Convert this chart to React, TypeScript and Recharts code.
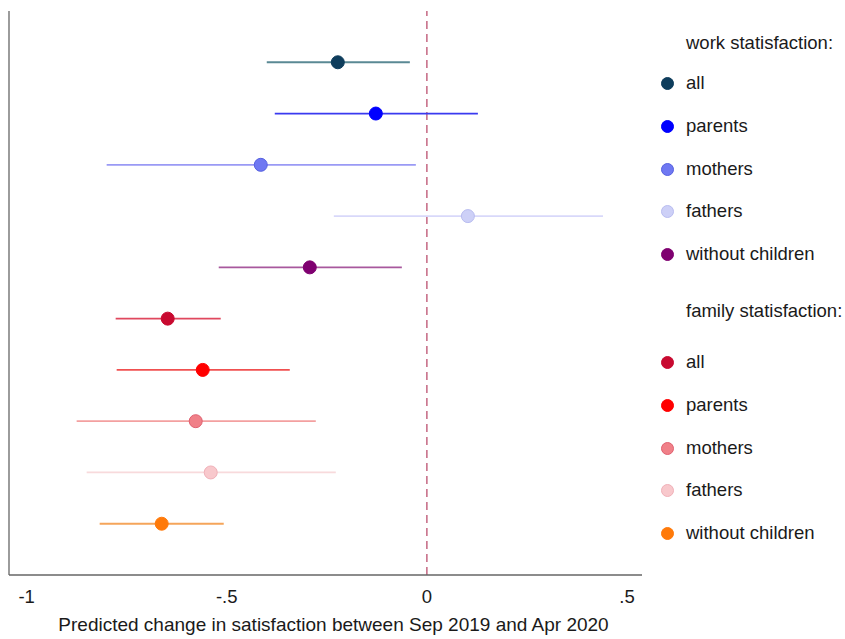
import React from "react";
import {
  ErrorBar,
  ReferenceLine,
  Scatter,
  ScatterChart,
  XAxis,
  YAxis,
  Label,
} from "recharts";

// estimates and 95% CI bounds
const groupTitles = ["work statisfaction:", "family statisfaction:"];
const subgroups = ["all", "parents", "mothers", "fathers", "without children"];

const workEstimate = [-0.2225, -0.1275, -0.415, 0.1025, -0.2925];
const workLower = [-0.4, -0.38, -0.8, -0.2325, -0.52];
const workUpper = [-0.0425, 0.1275, -0.0275, 0.44, -0.0625];

const familyEstimate = [-0.6475, -0.56, -0.5775, -0.54, -0.6625];
const familyLower = [-0.7775, -0.775, -0.875, -0.85, -0.8175];
const familyUpper = [-0.515, -0.3425, -0.2775, -0.2275, -0.5075];

const xTicks = [-1, -0.5, 0, 0.5];
const xTickLabels = ["-1", "-.5", "0", ".5"];

const workColors = [
  { dot: "#0e3d5c", edge: "#0e3d5c", line: "#5a8994" },
  { dot: "#0000ff", edge: "#0000ff", line: "#3a3af0" },
  { dot: "#6f78f2", edge: "#5560e0", line: "#9a9af5" },
  { dot: "#cdd0f7", edge: "#b8bcf0", line: "#d8d8fa" },
  { dot: "#7f0070", edge: "#7f0070", line: "#a8589d" },
];
const familyColors = [
  { dot: "#c80a30", edge: "#c80a30", line: "#e0485e" },
  { dot: "#ff0000", edge: "#ff0000", line: "#f05050" },
  { dot: "#f08088", edge: "#e06070", line: "#f3a0a0" },
  { dot: "#f8c8cc", edge: "#f0b0b8", line: "#f8dadc" },
  { dot: "#ff7a0a", edge: "#ff7a0a", line: "#f5a55a" },
];

const font = '"Liberation Sans", Arial, Helvetica, sans-serif';
const fontSize = 18.5;

type Row = { x: number; y: number; err: [number, number] };

const makeRows = (est: number[], lo: number[], hi: number[], offset: number) =>
  est.map<Row>((e, i) => ({
    x: e,
    y: offset + i + 1,
    err: [e - lo[i], hi[i] - e],
  }));

const workRows = makeRows(workEstimate, workLower, workUpper, 0);
const familyRows = makeRows(familyEstimate, familyLower, familyUpper, 5);

const series = [
  ...workRows.map((r, i) => ({ key: `w${i}`, row: r, c: workColors[i] })),
  ...familyRows.map((r, i) => ({ key: `f${i}`, row: r, c: familyColors[i] })),
];

const textStyle: React.CSSProperties = {
  position: "absolute",
  fontFamily: font,
  fontSize,
  lineHeight: "22px",
  color: "#1a1a1a",
  whiteSpace: "nowrap",
};

const LegendBlock = () => {
  const blocks = [
    { title: groupTitles[0], colors: workColors, top: 43, first: 83 },
    { title: groupTitles[1], colors: familyColors, top: 311, first: 362 },
  ];
  return (
    <>
      {blocks.map((b) => (
        <div key={b.title}>
          <div style={{ ...textStyle, left: 686, top: b.top - 11 }}>
            {b.title}
          </div>
          {subgroups.map((s, i) => {
            const cy = b.first + i * 42.8;
            return (
              <div key={s}>
                <div
                  style={{
                    position: "absolute",
                    left: 661,
                    top: cy - 6,
                    width: 11,
                    height: 11,
                    borderRadius: "50%",
                    background: b.colors[i].dot,
                    border: `1px solid ${b.colors[i].edge}`,
                  }}
                />
                <div style={{ ...textStyle, left: 686, top: cy - 11 }}>{s}</div>
              </div>
            );
          })}
        </div>
      ))}
    </>
  );
};

export default function App() {
  return (
    <div
      style={{
        position: "absolute",
        left: 0,
        top: 0,
        width: 845,
        height: 639,
        background: "#fff",
      }}
    >
      <ScatterChart
        width={845}
        height={639}
        margin={{ top: 11, right: 203, bottom: 0, left: 8 }}
      >
        <XAxis
          type="number"
          dataKey="x"
          domain={[-1.044, 0.5375]}
          allowDataOverflow
          ticks={xTicks}
          tickFormatter={(v: number) => xTickLabels[xTicks.indexOf(v)] ?? String(v)}
          tickLine={false}
          tickMargin={9}
          height={64}
          axisLine={{ stroke: "#666", strokeWidth: 1.3 }}
          tick={{ fill: "#1a1a1a", fontSize, fontFamily: font }}
        >
          <Label
            value="Predicted change in satisfaction between Sep 2019 and Apr 2020"
            position="insideBottom"
            offset={8}
            dx={8}
            style={{ fill: "#1a1a1a", fontSize: 19, fontFamily: font }}
          />
        </XAxis>
        <YAxis
          type="number"
          dataKey="y"
          domain={[0, 11]}
          reversed
          width={1}
          tick={false}
          tickLine={false}
          axisLine={{ stroke: "#666", strokeWidth: 1.3 }}
        />
        <ReferenceLine
          x={0}
          stroke="#c8708a"
          strokeWidth={1.6}
          strokeDasharray="8 5"
        />
        {series.map(({ key, row, c }) => (
          <Scatter
            key={key}
            data={[row]}
            isAnimationActive={false}
            shape={(p: any) => (
              <circle
                cx={p.cx}
                cy={p.cy}
                r={6.5}
                fill={c.dot}
                stroke={c.edge}
                strokeWidth={1}
              />
            )}
          >
            <ErrorBar
              dataKey="err"
              direction="x"
              width={0}
              stroke={c.line}
              strokeWidth={1.8}
              isAnimationActive={false}
            />
          </Scatter>
        ))}
      </ScatterChart>
      <LegendBlock />
    </div>
  );
}
